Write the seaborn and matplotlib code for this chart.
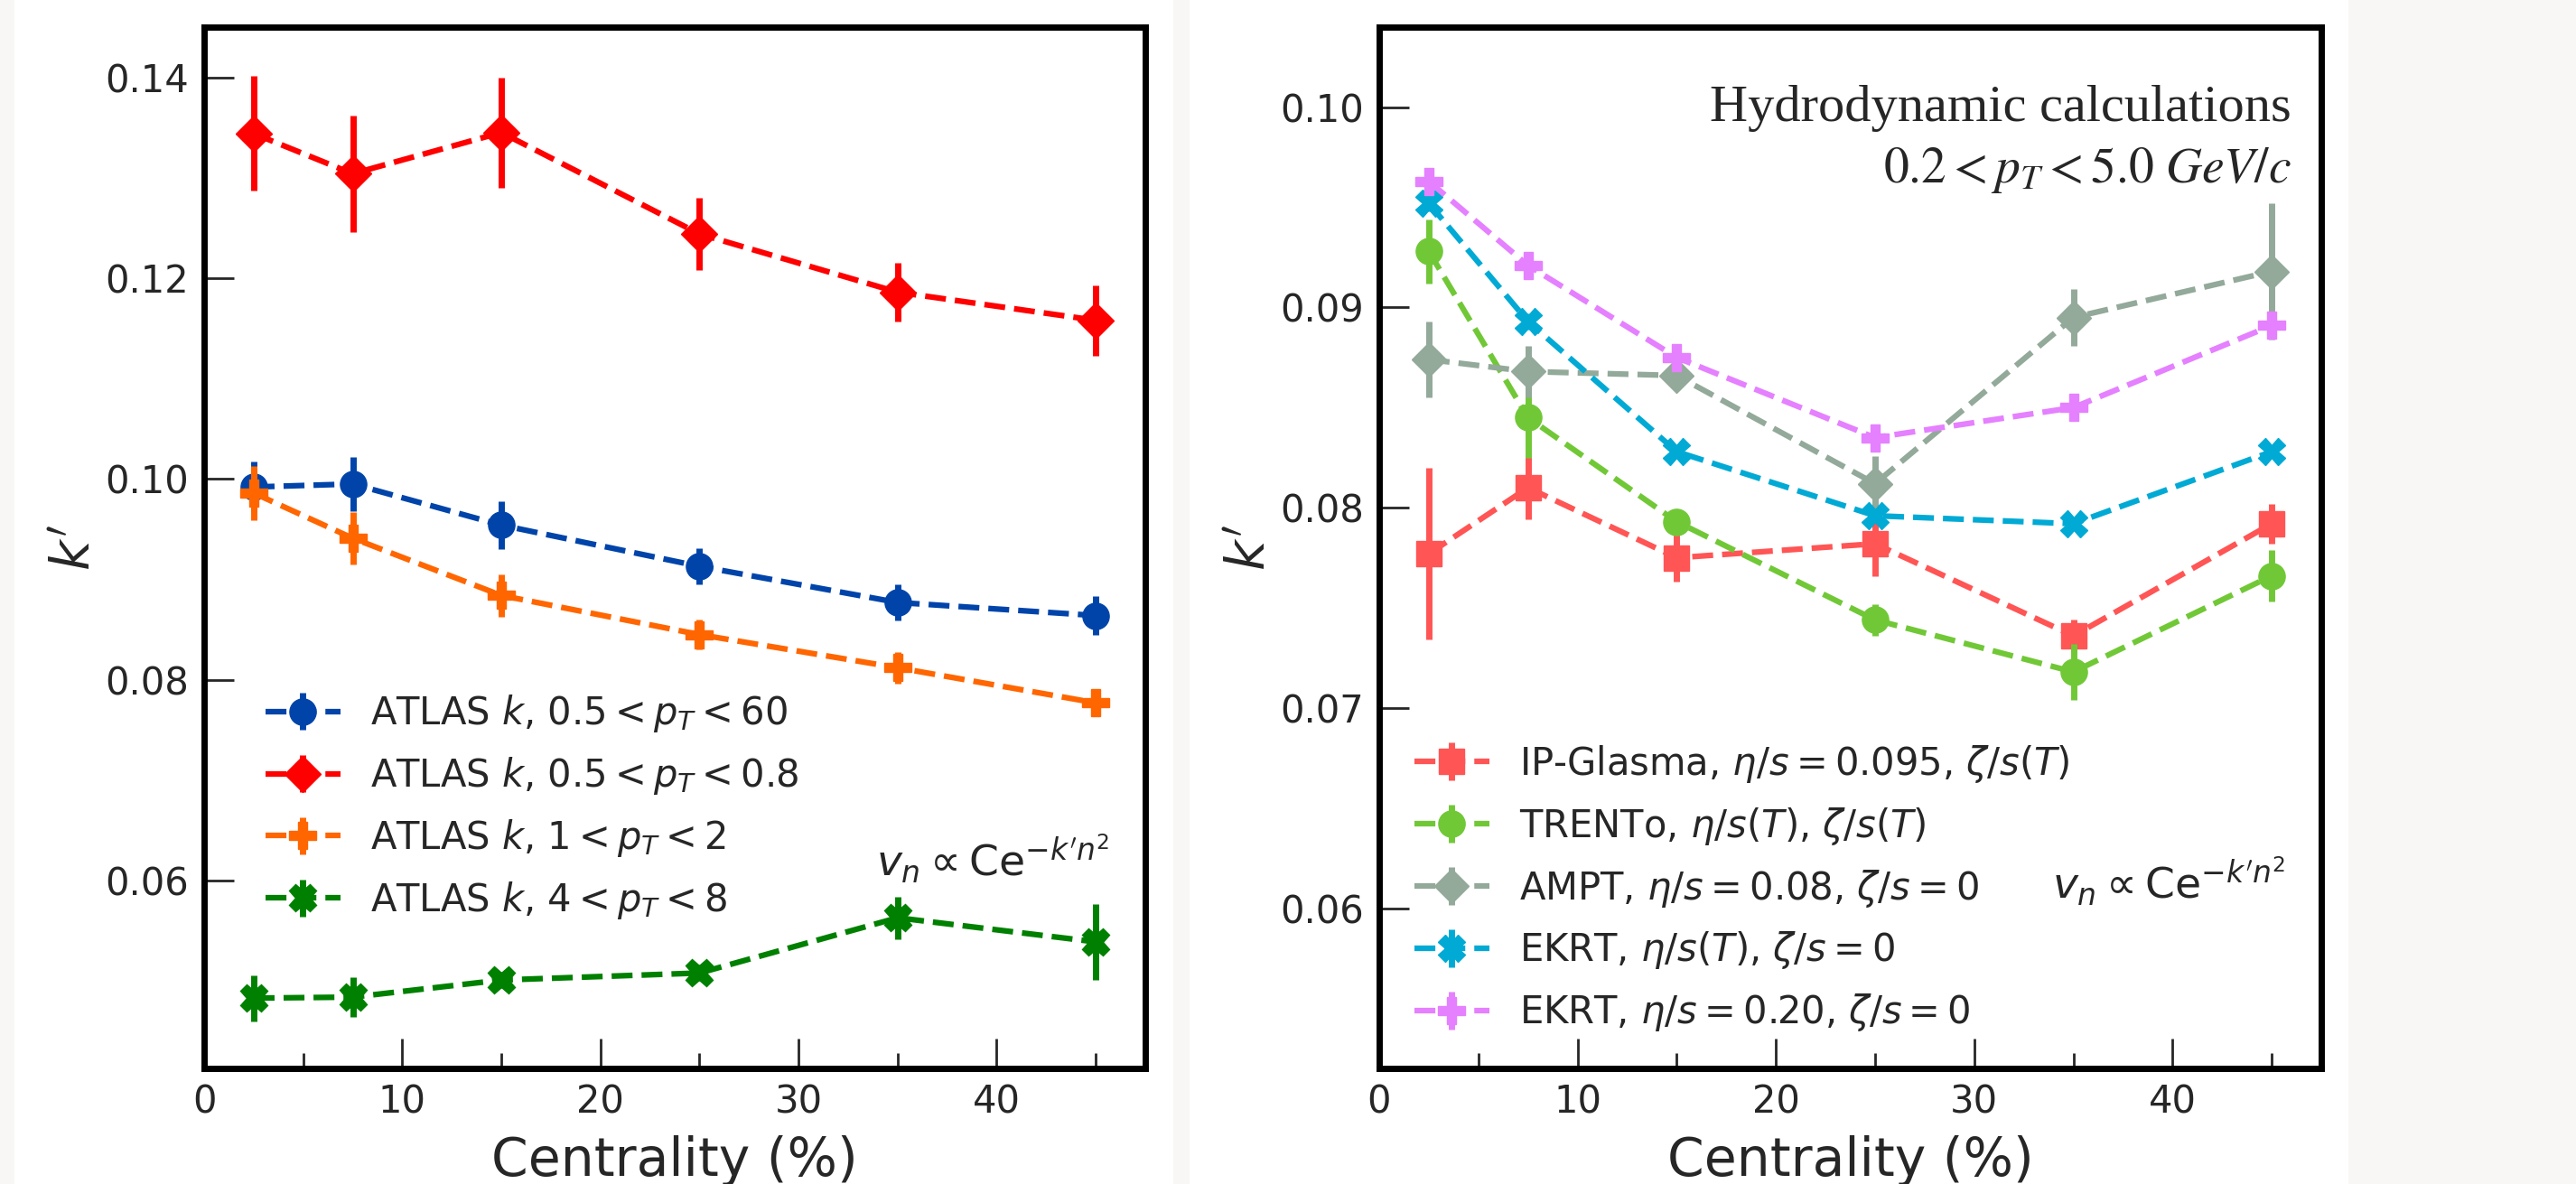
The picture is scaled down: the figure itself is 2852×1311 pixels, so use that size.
import numpy as np
import pandas as pd
import matplotlib
matplotlib.use("Agg")
import matplotlib.pyplot as plt
import seaborn as sns
from matplotlib.legend_handler import HandlerTuple
from matplotlib.patches import Rectangle

# ---------------- data ----------------
centrality = [2.5, 7.5, 15, 25, 35, 45]

atlas_labels = [r"ATLAS $k$, $0.5 < p_T < 60$",
                r"ATLAS $k$, $0.5 < p_T < 0.8$",
                r"ATLAS $k$, $1 < p_T < 2$",
                r"ATLAS $k$, $4 < p_T < 8$"]
atlas_pt05_60 = [0.0992, 0.0995, 0.0954, 0.0913, 0.0877, 0.0864]
atlas_pt05_60_err = [0.0025, 0.0027, 0.0024, 0.0018, 0.0018, 0.0019]
atlas_pt05_08 = [0.1344, 0.1304, 0.1345, 0.1244, 0.1186, 0.1158]
atlas_pt05_08_err = [0.0057, 0.0058, 0.0055, 0.0036, 0.0029, 0.0035]
atlas_pt1_2 = [0.0986, 0.0941, 0.0884, 0.0845, 0.0812, 0.0777]
atlas_pt1_2_err = [0.0027, 0.0026, 0.0021, 0.0015, 0.0016, 0.0012]
atlas_pt4_8 = [0.0483, 0.0484, 0.0501, 0.0508, 0.0563, 0.0539]
atlas_pt4_8_err = [0.0023, 0.0020, 0.0008, 0.0008, 0.0021, 0.0038]

hydro_labels = [r"IP-Glasma, $\eta/s = 0.095$, $\zeta/s(T)$",
                r"TRENTo, $\eta/s(T)$, $\zeta/s(T)$",
                r"AMPT, $\eta/s = 0.08$, $\zeta/s = 0$",
                r"EKRT, $\eta/s(T)$, $\zeta/s = 0$",
                r"EKRT, $\eta/s = 0.20$, $\zeta/s = 0$"]
ipglasma = [0.0777, 0.0810, 0.0775, 0.0782, 0.0736, 0.0792]
ipglasma_err = [0.0043, 0.0016, 0.0012, 0.0016, 0.0008, 0.0010]
trento = [0.0928, 0.0845, 0.0793, 0.0744, 0.0718, 0.0766]
trento_err = [0.0016, 0.0020, 0.0005, 0.0008, 0.0014, 0.0013]
ampt = [0.0874, 0.0868, 0.0866, 0.0812, 0.0895, 0.0918]
ampt_err = [0.0019, 0.0013, 0.0004, 0.0014, 0.0014, 0.0034]
ekrt_T = [0.0952, 0.0893, 0.0828, 0.0796, 0.0792, 0.0828]
ekrt_T_err = [0.0004, 0.0004, 0.0003, 0.0003, 0.0003, 0.0003]
ekrt_020 = [0.0963, 0.0921, 0.0875, 0.0835, 0.0850, 0.0891]
ekrt_020_err = [0.0004, 0.0003, 0.0004, 0.0004, 0.0004, 0.0005]

left_yticks = [0.06, 0.08, 0.10, 0.12, 0.14]
right_yticks = [0.06, 0.07, 0.08, 0.09, 0.10]
xticks_major = [0, 10, 20, 30, 40]
xticks_minor = [5, 15, 25, 35, 45]

# ---------------- style ----------------
sns.set_style("white")
plt.rcParams["font.family"] = ["DejaVu Sans"]
plt.rcParams["mathtext.fontset"] = "dejavusans"

W, H = 2852, 1311
fig = plt.figure(figsize=(W / 100, H / 100), dpi=100)
fig.patch.set_facecolor("#f8f7f5")
fig.patches.append(Rectangle((16 / W, 0), (1299 - 16) / W, 1, transform=fig.transFigure,
                             facecolor="white", edgecolor="none", zorder=-10))
fig.patches.append(Rectangle((1317 / W, 0), (2600 - 1317) / W, 1, transform=fig.transFigure,
                             facecolor="white", edgecolor="none", zorder=-10))

ax_l = fig.add_axes([226 / W, (H - 1183) / H, (1268 - 226) / W, 1153 / H])
ax_r = fig.add_axes([1527 / W, (H - 1183) / H, (2570 - 1527) / W, 1153 / H])

LW = 4.5
ELW = 5


def draw_series(ax, y, yerr, color, marker, ms):
    df = pd.DataFrame({"centrality": centrality, "k": y})
    eb = ax.errorbar(df["centrality"], df["k"], yerr=yerr, fmt="none",
                     ecolor=color, elinewidth=ELW, capsize=0, zorder=3)
    sns.lineplot(data=df, x="centrality", y="k", ax=ax, color=color,
                 marker=marker, markersize=ms, linestyle="--", linewidth=LW,
                 markeredgecolor=color, markeredgewidth=1, legend=False, zorder=3)
    ln = ax.lines[-1]
    return (eb, ln)


left_series = [
    (atlas_pt05_60, atlas_pt05_60_err, "#0044aa", "o", 21),
    (atlas_pt05_08, atlas_pt05_08_err, "#ff0000", "D", 20),
    (atlas_pt1_2, atlas_pt1_2_err, "#ff6600", "P", 21),
    (atlas_pt4_8, atlas_pt4_8_err, "#008000", "X", 22),
]
right_series = [
    (ipglasma, ipglasma_err, "#ff5555", "s", 20),
    (trento, trento_err, "#71c837", "o", 21),
    (ampt, ampt_err, "#93a99a", "D", 19),
    (ekrt_T, ekrt_T_err, "#00aad4", "X", 21),
    (ekrt_020, ekrt_020_err, "#e580ff", "P", 21),
]

handles_l = [draw_series(ax_l, *s) for s in left_series]
handles_r = [draw_series(ax_r, *s) for s in right_series]

for ax, yl, yt in [(ax_l, (0.0413, 0.145), left_yticks), (ax_r, (0.052, 0.104), right_yticks)]:
    ax.set_xlim(0, 47.5)
    ax.set_ylim(*yl)
    ax.set_yticks(yt)
    ax.set_yticklabels([f"{v:.2f}" for v in yt])
    ax.set_xticks(xticks_major)
    ax.set_xticks(xticks_minor, minor=True)
    ax.tick_params(axis="both", which="major", direction="in", length=24, width=2,
                   labelsize=30, pad=12, top=False, right=False, left=True, bottom=True)
    ax.tick_params(axis="x", which="minor", direction="in", length=12, width=2,
                   top=False, bottom=True)
    for sp in ax.spines.values():
        sp.set_linewidth(5)
        sp.set_color("black")
    ax.set_facecolor("white")
    ax.set_xlabel("Centrality (%)", fontsize=42, labelpad=11)
    ax.set_ylabel(r"$k'$", fontsize=42, labelpad=3)

leg_kw = dict(fontsize=30, frameon=False,
              handler_map={tuple: HandlerTuple(ndivide=1, pad=0)},
              borderaxespad=0, labelspacing=0.55, handlelength=2.0, handletextpad=0.8)
ax_l.legend(handles_l, atlas_labels, loc="center left", bbox_to_anchor=(0.049, 0.251), **leg_kw)
ax_r.legend(handles_r, hydro_labels, loc="center left", bbox_to_anchor=(0.021, 0.173), **leg_kw)

formula = r"$v_n \propto \mathrm{Ce}^{-k'n^2}$"
ax_l.text(0.962, 0.184, formula, transform=ax_l.transAxes, ha="right", va="baseline", fontsize=34)
ax_r.text(0.962, 0.163, formula, transform=ax_r.transAxes, ha="right", va="baseline", fontsize=34)

ax_r.text(0.968, 0.910, "Hydrodynamic calculations", transform=ax_r.transAxes,
          ha="right", va="baseline", fontsize=42, family="Liberation Serif")
ax_r.text(0.968, 0.851, r"$0.2 < p_T < 5.0\ GeV/c$", transform=ax_r.transAxes,
          ha="right", va="baseline", fontsize=40, family="Liberation Serif",
          math_fontfamily="stix")

fig.savefig("out.png", dpi=100, facecolor=fig.get_facecolor())
